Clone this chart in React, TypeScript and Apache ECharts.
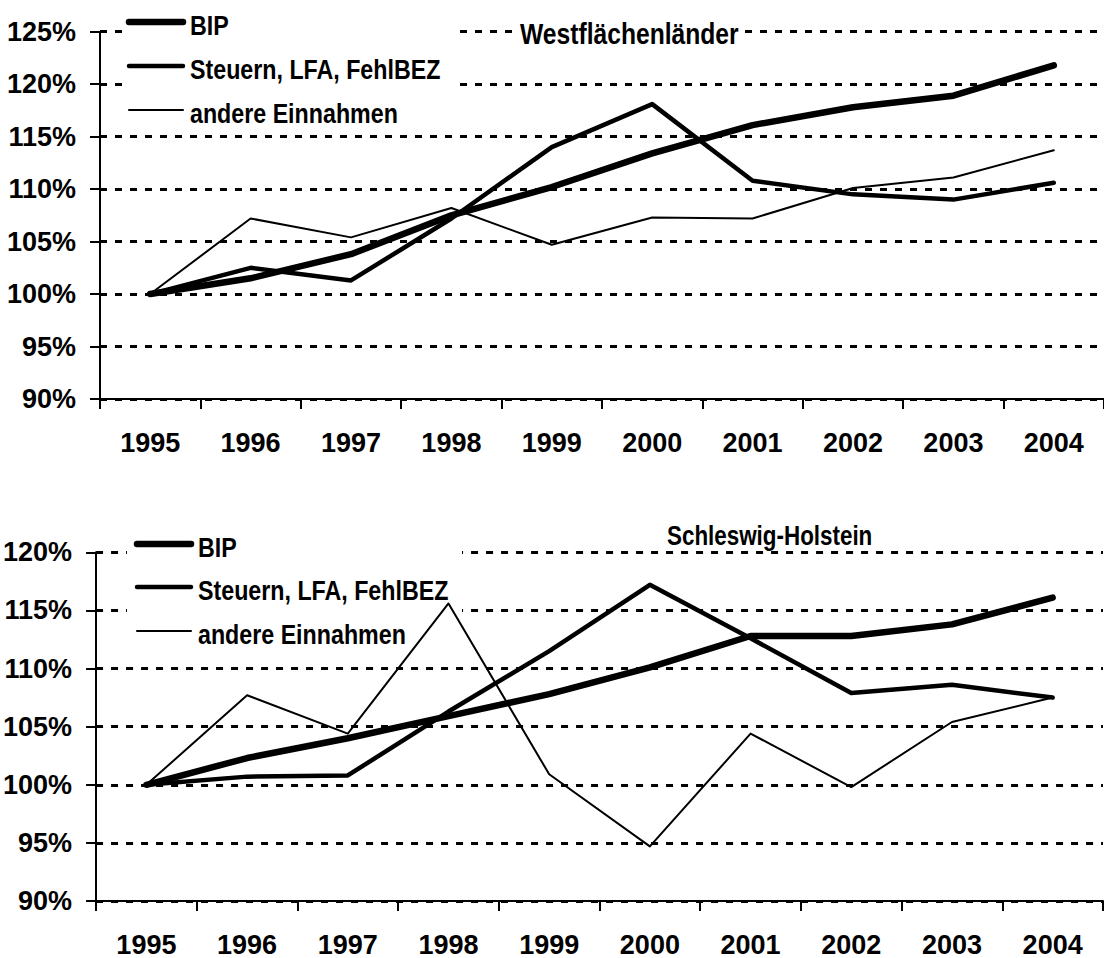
import React, { useEffect, useRef } from "react";
import * as echarts from "echarts";

const years = ["1995", "1996", "1997", "1998", "1999", "2000", "2001", "2002", "2003", "2004"];
const seriesNames = ["BIP", "Steuern, LFA, FehlBEZ", "andere Einnahmen"];
const panelTitles = ["Westflächenländer", "Schleswig-Holstein"];

const westBIP = [100, 101.5, 103.8, 107.5, 110.2, 113.4, 116.1, 117.8, 118.9, 121.8];
const westSteuern = [100, 102.5, 101.3, 107.2, 114.0, 118.1, 110.8, 109.5, 109.0, 110.6];
const westAndere = [100, 107.2, 105.4, 108.2, 104.7, 107.3, 107.2, 110.1, 111.1, 113.7];

const shBIP = [100, 102.3, 104.0, 105.9, 107.8, 110.1, 112.8, 112.8, 113.8, 116.1];
const shSteuern = [100, 100.7, 100.8, 106.3, 111.5, 117.2, 112.6, 107.9, 108.6, 107.5];
const shAndere = [100, 107.7, 104.4, 115.6, 100.9, 94.7, 104.4, 99.8, 105.4, 107.5];

const lineWidths = [6.5, 4.5, 2];
const FONT = "'Liberation Sans Narrow', 'Liberation Sans', Arial, sans-serif";

function makeAxes(gridIndex: number, yMax: number) {
  const xAxis = {
    type: "category",
    gridIndex,
    data: years,
    boundaryGap: true,
    axisLine: { show: true, lineStyle: { color: "#000", width: 2 } },
    axisTick: { show: true, length: 10, inside: false, lineStyle: { color: "#000", width: 2 } },
    axisLabel: { color: "#000", fontFamily: FONT, fontWeight: "bold", fontSize: 27, margin: 30 },
    splitLine: { show: false },
  };
  const yAxis = {
    type: "value",
    gridIndex,
    min: 90,
    max: yMax,
    interval: 5,
    axisLine: { show: true, lineStyle: { color: "#000", width: 2 } },
    axisTick: { show: true, length: 10, inside: false, lineStyle: { color: "#000", width: 2 } },
    axisLabel: {
      color: "#000",
      fontFamily: FONT,
      fontWeight: "bold",
      fontSize: 27,
      margin: 24,
      formatter: "{value}%",
    },
    splitLine: { show: true, lineStyle: { color: "#000", width: 3, type: [7, 8] } },
  };
  return { xAxis, yAxis };
}

function textEl(text: string, x: number, y: number, size: number, scaleX: number, z = 3) {
  return {
    type: "text",
    z,
    x,
    y,
    scaleX,
    style: {
      text,
      fill: "#000",
      font: `bold ${size}px ${FONT}`,
      verticalAlign: "middle",
      align: "left",
    },
    silent: true,
  };
}

function legendGraphic(
  boxX: number,
  boxY: number,
  boxW: number,
  boxH: number,
  lineX1: number,
  lineX2: number,
  textX: number,
  ys: number[]
) {
  const els: any[] = [
    {
      type: "rect",
      z: 1,
      shape: { x: boxX, y: boxY, width: boxW, height: boxH },
      style: { fill: "#fff" },
      silent: true,
    },
  ];
  seriesNames.forEach((name, i) => {
    els.push({
      type: "line",
      z: 3,
      shape: { x1: lineX1, y1: ys[i] - 3, x2: lineX2, y2: ys[i] - 3 },
      style: { stroke: "#000", lineWidth: lineWidths[i], lineCap: "round" },
      silent: true,
    });
    els.push(textEl(name, textX, ys[i], 28, 0.83));
  });
  return els;
}

export default function App() {
  const ref = useRef<HTMLDivElement>(null);
  useEffect(() => {
    if (!ref.current) return;
    const chart = echarts.init(ref.current, undefined, { renderer: "svg" });
    const a0 = makeAxes(0, 125);
    const a1 = makeAxes(1, 120);
    const mkSeries = (data: number[], i: number, idx: number) => ({
      type: "line",
      name: seriesNames[i],
      xAxisIndex: idx,
      yAxisIndex: idx,
      data,
      symbol: "none",
      z: 4,
      lineStyle: { color: "#000", width: lineWidths[i], cap: "round", join: "round" },
    });
    chart.setOption({
      animation: false,
      backgroundColor: "#fff",
      grid: [
        { left: 100, top: 31.7, width: 1004, height: 367.3, containLabel: false },
        { left: 95, top: 552.3, width: 1008, height: 352.7, containLabel: false },
      ],
      xAxis: [a0.xAxis, a1.xAxis],
      yAxis: [a0.yAxis, a1.yAxis],
      series: [
        mkSeries(westBIP, 0, 0),
        mkSeries(westSteuern, 1, 0),
        mkSeries(westAndere, 2, 0),
        mkSeries(shBIP, 0, 1),
        mkSeries(shSteuern, 1, 1),
        mkSeries(shAndere, 2, 1),
      ],
      graphic: [
        ...legendGraphic(124, 4, 329, 126, 129, 183, 190, [25, 69, 113]),
        ...legendGraphic(127, 528, 335, 124, 137, 191, 198, [547, 590, 634]),
        {
          type: "rect",
          z: 1,
          shape: { x: 518, y: 18, width: 220, height: 30 },
          style: { fill: "#fff" },
          silent: true,
        },
        textEl(panelTitles[0], 520, 34, 29, 0.85),
        textEl(panelTitles[1], 667, 535, 28, 0.8),
      ],
    });
    return () => chart.dispose();
  }, []);
  return (
    <div
      ref={ref}
      style={{ position: "absolute", left: 0, top: 0, width: 1104, height: 958, background: "#fff" }}
    />
  );
}
